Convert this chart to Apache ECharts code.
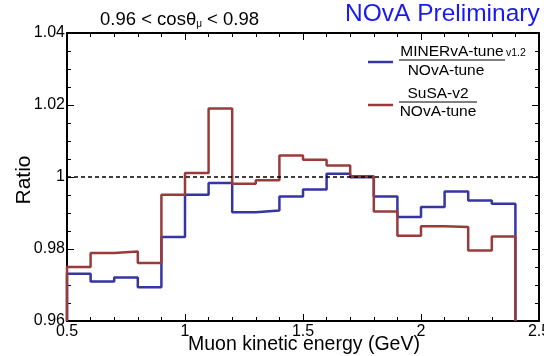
<!DOCTYPE html>
<html>
<head>
<meta charset="utf-8">
<script src="https://cdn.jsdelivr.net/npm/echarts@6/dist/echarts.min.js"></script>
<style>html,body{margin:0;padding:0;background:#fff}#c{width:544px;height:356px}</style>
</head>
<body>
<div id="c"></div>
<script>
// Bin low/high edges (GeV)
const binEdges = [0.5,0.6,0.7,0.8,0.9,1.0,1.1,1.2,1.3,1.4,1.5,1.6,1.7,1.8,1.9,2.0,2.1,2.2,2.3,2.4];
// MINERvA-tune v1.2 / NOvA-tune
const minervaRatio = [0.9731,0.9710,0.9721,0.9694,0.9833,0.9951,0.9983,0.9902,0.9907,0.9946,0.9965,1.0009,0.9999,0.9946,0.9889,0.9917,0.9960,0.9935,0.9926];
// SuSA-v2 / NOvA-tune
const susaRatio = [0.9750,0.9789,0.9793,0.9761,0.9951,1.0011,1.0190,0.9981,0.9991,1.0060,1.0048,1.0032,1.0002,0.9904,0.9837,0.9863,0.9861,0.9796,0.9835];
const xTicks = [0.5,1,1.5,2,2.5];
const yTicks = [0.96,0.98,1,1.02,1.04];
const refLine = 1;

const FONT = 'Liberation Sans, Arial, Helvetica, sans-serif';
const BLUE = '#3535a3';
const RED = '#9a3b3b';

function histPath(edges, vals, floor) {
  const pts = [[edges[0], floor]];
  for (let i = 0; i < vals.length; i++) {
    pts.push([edges[i], vals[i]]);
    pts.push([edges[i + 1], vals[i]]);
  }
  pts.push([edges[vals.length], floor]);
  return pts;
}
// low edges plus the upper edge of the last bin
const fullEdges = binEdges.concat([+(binEdges[binEdges.length-1] + (binEdges[1]-binEdges[0])).toFixed(2)]);
const yMin = yTicks[0], yMax = yTicks[yTicks.length-1];

const chart = echarts.init(document.getElementById('c'), null, {renderer: 'canvas'});

const axisCommon = {
  type: 'value',
  axisLine: {show: true, onZero: false, lineStyle: {color: '#000', width: 2}},
  axisTick: {show: true, inside: true, length: 7, lineStyle: {color: '#000', width: 1}},
  splitLine: {show: false},
  minorSplitLine: {show: false}
};

chart.setOption({
  animation: false,
  backgroundColor: '#fff',
  textStyle: {fontFamily: FONT},
  grid: {left: 67, right: 5, top: 33, bottom: 35, containLabel: false, outerBoundsMode: 'none'},
  title: {
    text: '0.96 < cosθ{s|μ} < 0.98',
    left: 95, top: 5,
    textStyle: {fontFamily: FONT, fontSize: 18.5, fontWeight: 'normal', color: '#000',
      rich: {s: {fontFamily: FONT, fontSize: 10, color: '#000', padding: [9, 0, 0, 0]}}}
  },
  xAxis: [
    Object.assign({}, axisCommon, {
      position: 'bottom', min: xTicks[0], max: xTicks[xTicks.length-1], interval: 0.5,
      minorTick: {show: true, splitNumber: 5, length: 4, lineStyle: {color: '#000', width: 1}},
      axisLabel: {show: true, color: '#000', fontFamily: FONT, fontSize: 16, margin: 3,
        formatter: v => String(+v.toFixed(2))}
    }),
    Object.assign({}, axisCommon, {
      position: 'top', min: xTicks[0], max: xTicks[xTicks.length-1], interval: 0.5,
      minorTick: {show: true, splitNumber: 5, length: 4, lineStyle: {color: '#000', width: 1}},
      axisLabel: {show: false}
    })
  ],
  yAxis: [
    Object.assign({}, axisCommon, {
      position: 'left', min: yMin, max: yMax, interval: 0.02,
      minorTick: {show: true, splitNumber: 4, length: 4, lineStyle: {color: '#000', width: 1}},
      axisLabel: {show: true, color: '#000', fontFamily: FONT, fontSize: 16, margin: 2,
        formatter: v => String(+v.toFixed(2))}
    }),
    Object.assign({}, axisCommon, {
      position: 'right', min: yMin, max: yMax, interval: 0.02,
      minorTick: {show: true, splitNumber: 4, length: 4, lineStyle: {color: '#000', width: 1}},
      axisLabel: {show: false}
    })
  ],
  series: [
    {
      name: 'MINERvA-tune v1.2 / NOvA-tune', type: 'line', xAxisIndex: 0, yAxisIndex: 0,
      data: histPath(fullEdges, minervaRatio, yMin),
      showSymbol: false, symbol: 'none', clip: true,
      lineStyle: {color: BLUE, width: 2.5}, z: 3,
      markLine: {
        silent: true, symbol: ['none', 'none'], label: {show: false},
        lineStyle: {color: '#000', type: [4, 3], width: 1.5},
        data: [{yAxis: refLine}]
      }
    },
    {
      name: 'SuSA-v2 / NOvA-tune', type: 'line', xAxisIndex: 0, yAxisIndex: 0,
      data: histPath(fullEdges, susaRatio, yMin),
      showSymbol: false, symbol: 'none', clip: true,
      lineStyle: {color: RED, width: 2.5}, z: 4
    }
  ],
  graphic: [
    {type: 'text', left: 345, top: 2, style: {text: 'NOvA Preliminary', fontFamily: FONT, fontSize: 24.5, fill: '#1a1aee'}},
    // axis titles
    {type: 'text', x: 304, y: 345, style: {text: 'Muon kinetic energy (GeV)', fontFamily: FONT, fontSize: 19.5, fill: '#000', align: 'center', verticalAlign: 'middle'}},
    {type: 'text', x: 24, y: 180, rotation: Math.PI / 2, style: {text: 'Ratio', fontFamily: FONT, fontSize: 21, fill: '#000', align: 'center', verticalAlign: 'middle'}},
    // legend entry 1
    {type: 'line', shape: {x1: 368, y1: 62, x2: 393, y2: 62}, style: {stroke: BLUE, lineWidth: 2.5}},
    {type: 'text', x: 452, y: 52, style: {text: 'MINERvA-tune', fontFamily: FONT, fontSize: 15.5, fill: '#000', align: 'center', verticalAlign: 'middle'}},
    {type: 'text', x: 506, y: 53, style: {text: 'v1.2', fontFamily: FONT, fontSize: 10.5, fill: '#000', align: 'left', verticalAlign: 'middle'}},
    {type: 'line', shape: {x1: 399, y1: 60, x2: 505, y2: 60}, style: {stroke: '#000', lineWidth: 1}},
    {type: 'text', x: 446, y: 71, style: {text: 'NOvA-tune', fontFamily: FONT, fontSize: 15.5, fill: '#000', align: 'center', verticalAlign: 'middle'}},
    // legend entry 2
    {type: 'line', shape: {x1: 368, y1: 105, x2: 393, y2: 105}, style: {stroke: RED, lineWidth: 2.5}},
    {type: 'text', x: 438, y: 94, style: {text: 'SuSA-v2', fontFamily: FONT, fontSize: 15.5, fill: '#000', align: 'center', verticalAlign: 'middle'}},
    {type: 'line', shape: {x1: 399, y1: 102, x2: 477, y2: 102}, style: {stroke: '#000', lineWidth: 1}},
    {type: 'text', x: 438, y: 112, style: {text: 'NOvA-tune', fontFamily: FONT, fontSize: 15.5, fill: '#000', align: 'center', verticalAlign: 'middle'}}
  ]
});
</script>
</body>
</html>
